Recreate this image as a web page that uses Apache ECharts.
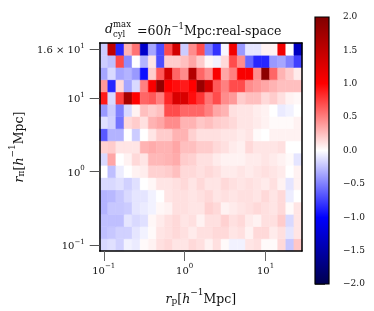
<!DOCTYPE html>
<html><head><meta charset="utf-8">
<script src="https://cdn.jsdelivr.net/npm/echarts@6/dist/echarts.min.js"></script>
<style>html,body{margin:0;padding:0;background:#fff}#c{width:374px;height:311px}</style>
</head><body><div id="c"></div>
<script>
// log10(r_p) bin edges (25 bins)
const rpLogEdges = [-1.05,-0.95,-0.85,-0.75,-0.65,-0.55,-0.45,-0.35,-0.25,-0.15,-0.05,0.05,0.15,0.25,0.35,0.45,0.55,0.65,0.75,0.85,0.95,1.05,1.15,1.25,1.35,1.45];
// log10(r_pi) bin edges (17 bins)
const rpiLogEdges = [-1.0833,-0.9167,-0.75,-0.5833,-0.4167,-0.25,-0.0833,0.0833,0.25,0.4167,0.5833,0.75,0.9167,1.0833,1.25,1.4167,1.5833,1.75];

// values per r_pi row (bottom row = rpiRow00)
const rpiRow16 = [-0.2,1.5,-0.85,0.3,0.55,-1.3,-0.35,-0.7,0.7,1.35,-0.2,0.45,0.7,-0.5,-0.8,-0.03,1.1,-0.4,-0.1,-0.1,0.05,0.05,1.1,0.0,-1.35];
const rpiRow15 = [-0.2,-0.25,0.7,-0.45,0.0,-0.3,0.1,-0.7,0.2,0.2,0.25,0.35,0.2,0.03,-0.05,0.15,0.7,0.45,-0.6,-0.85,-0.85,-0.4,-0.35,-0.5,-0.75];
const rpiRow14 = [-0.35,-0.15,-0.35,-0.3,-0.4,-0.95,0.2,0.65,1.35,0.6,0.45,1.6,0.6,0.45,1.05,0.35,0.5,1.05,1.05,0.45,1.9,0.6,0.3,0.2,0.08];
const rpiRow13 = [0.4,-0.85,0.15,-0.35,-0.15,0.5,1.05,1.85,1.0,0.95,0.9,1.0,1.8,1.35,0.65,0.5,0.7,0.7,0.45,0.4,0.35,0.3,0.25,0.25,0.25];
const rpiRow12 = [0.9,-0.15,0.75,1.7,1.0,0.6,0.65,0.5,0.85,1.3,1.3,0.95,0.8,0.55,0.7,0.45,0.4,0.2,0.25,0.25,0.15,0.2,0.12,0.05,0.03];
const rpiRow11 = [-0.4,-0.2,-0.5,-0.15,0.05,0.25,0.2,0.25,0.7,0.7,0.6,0.6,0.6,0.5,0.35,0.3,0.12,0.1,0.1,0.07,0.05,0.0,-0.08,-0.05,0.0];
const rpiRow10 = [-0.12,-0.18,-0.55,0.15,0.2,0.12,0.3,0.35,0.45,0.45,0.3,0.3,0.22,0.25,0.2,0.18,0.15,0.1,0.1,0.08,0.05,0.02,0.02,0.02,0.05];
const rpiRow09 = [-0.65,-0.3,-0.3,0.0,-0.2,0.0,0.1,0.2,0.2,0.3,0.3,0.18,0.12,0.12,0.12,0.1,0.1,0.08,0.1,0.02,0.0,0.05,0.05,0.05,0.05];
const rpiRow08 = [0.18,0.2,0.1,0.1,0.1,0.3,0.33,0.3,0.3,0.35,0.25,0.25,0.2,0.2,0.15,0.12,0.08,0.06,0.15,0.1,0.1,0.1,0.12,0.0,0.0];
const rpiRow07 = [-0.15,0.35,0.0,0.05,0.15,0.1,0.28,0.28,0.3,0.33,0.2,0.18,0.12,0.12,0.08,0.05,0.05,0.05,0.08,0.08,0.1,0.08,0.05,0.02,-0.1];
const rpiRow06 = [0.0,-0.25,-0.07,0.0,0.05,0.07,0.18,0.18,0.2,0.25,0.15,0.15,0.12,0.15,0.12,0.08,0.08,0.1,0.08,0.1,0.12,0.1,0.08,0.0,0.05];
const rpiRow05 = [-0.15,-0.15,-0.12,-0.18,-0.12,0.0,0.03,0.1,0.1,0.12,0.15,0.1,0.15,0.1,0.1,0.15,0.12,0.1,0.12,0.1,0.08,0.12,0.05,-0.1,0.05];
const rpiRow04 = [-0.3,-0.28,-0.22,-0.15,-0.1,-0.1,-0.05,0.0,0.1,0.12,0.12,0.1,0.12,0.15,0.1,0.12,0.1,0.12,0.12,0.1,0.15,0.1,0.15,-0.07,0.0];
const rpiRow03 = [-0.3,-0.22,-0.22,-0.2,-0.1,-0.08,-0.05,0.03,0.05,0.12,0.12,0.1,0.1,0.18,0.15,0.05,0.08,0.1,0.12,0.15,0.12,0.1,0.15,0.02,0.1];
const rpiRow02 = [-0.25,-0.25,-0.25,-0.1,-0.15,-0.12,0.03,0.08,0.12,0.15,0.1,0.12,0.05,0.12,0.12,0.18,0.12,0.15,0.08,0.05,0.12,0.12,0.2,-0.15,0.1];
const rpiRow01 = [-0.25,-0.22,-0.18,-0.18,-0.1,-0.05,0.02,0.1,0.12,0.15,0.12,0.08,0.12,0.12,0.15,0.15,0.1,0.12,0.05,0.15,0.15,0.08,0.12,-0.1,0.1];
const rpiRow00 = [-0.15,-0.12,-0.18,-0.05,-0.08,0.02,0.05,0.12,0.15,0.1,0.1,0.15,0.12,0.05,0.12,0.02,-0.05,-0.05,0.1,0.12,0.02,0.02,0.15,-0.22,0.22];

const xTickVals = [-1, 0, 1];
const xTickLabels = [['10','−1'],['10','0'],['10','1']];
const yTickVals = [-1, 0, 1, 1.6667];
const yTickLabels = [['10','−1'],['10','0'],['10','1'],['1.6 × 10','1']];
const cbarMin = -2, cbarMax = 2, cbarStep = 0.5;
const cmap = ['#00004d','#0000ff','#ffffff','#ff0000','#800000'];

const rows = [rpiRow00,rpiRow01,rpiRow02,rpiRow03,rpiRow04,rpiRow05,rpiRow06,rpiRow07,rpiRow08,rpiRow09,rpiRow10,rpiRow11,rpiRow12,rpiRow13,rpiRow14,rpiRow15,rpiRow16];
const cells = [];
rows.forEach((row, j) => row.forEach((v, i) => {
  cells.push([rpLogEdges[i], rpLogEdges[i+1], rpiLogEdges[j], rpiLogEdges[j+1], v]);
}));

const FF = 'DejaVu Serif';
const tickRich = {
  b: {fontFamily: FF, fontSize: 10, lineHeight: 13, verticalAlign: 'bottom', color: '#111'},
  s: {fontFamily: FF, fontSize: 7, verticalAlign: 'top', color: '#111'}
};
function nearestLabel(vals, labels, v) {
  let k = 0, d = Infinity;
  vals.forEach((t, i) => { if (Math.abs(t - v) < d) { d = Math.abs(t - v); k = i; } });
  return '{b|' + labels[k][0] + '}{s|' + labels[k][1] + '}';
}
const nameRich = {
  n: {fontFamily: FF, fontSize: 12.5, lineHeight: 18, verticalAlign: 'bottom', color: '#111'},
  i: {fontFamily: FF, fontStyle: 'italic', fontSize: 12.5, lineHeight: 18, verticalAlign: 'bottom', color: '#111'},
  sub: {fontFamily: FF, fontSize: 9, verticalAlign: 'bottom', color: '#111'},
  sup: {fontFamily: FF, fontSize: 9, verticalAlign: 'top', color: '#111'}
};

function renderCell(params, api) {
  const p0 = api.coord([api.value(0), api.value(3)]);
  const p1 = api.coord([api.value(1), api.value(2)]);
  const c = api.visual('color');
  return {type: 'rect', shape: {x: p0[0], y: p0[1], width: p1[0]-p0[0], height: p1[1]-p0[1]},
    style: {fill: c, stroke: c, lineWidth: 0.5}};
}
function renderBar(params, api) {
  const p0 = api.coord([api.value(0), api.value(3)]);
  const p1 = api.coord([api.value(1), api.value(2)]);
  const stops = cmap.slice().reverse().map((c, k) => ({offset: k/(cmap.length-1), color: c}));
  return {type: 'rect', shape: {x: p0[0], y: p0[1], width: p1[0]-p0[0], height: p1[1]-p0[1]},
    style: {fill: new echarts.graphic.LinearGradient(0,0,0,1,stops), stroke: '#000', lineWidth: 1.2}};
}

const chart = echarts.init(document.getElementById('c'), null, {renderer: 'canvas'});
const frameLine = {show: true, onZero: false, lineStyle: {color: '#000', width: 1.5}};
chart.setOption({
  animation: false,
  backgroundColor: '#fff',
  grid: [
    {left: 87, top: 43, width: 215, height: 215},
    {left: 315, top: 17, width: 14, height: 267}
  ],
  visualMap: {type: 'continuous', show: false, min: cbarMin, max: cbarMax, dimension: 4, seriesIndex: 0, inRange: {color: cmap}},
  xAxis: [
    {gridIndex: 0, type: 'value', min: rpLogEdges[0], max: rpLogEdges[rpLogEdges.length-1], position: 'bottom', z: 10,
     axisLine: frameLine,
     axisTick: {show: true, length: 10, customValues: xTickVals, lineStyle: {color: '#666', width: 1}},
     axisLabel: {customValues: xTickVals, margin: 12, formatter: v => nearestLabel(xTickVals, xTickLabels, v), rich: tickRich},
     splitLine: {show: false},
     name: '{i|r}{sub|p}{n|[}{i|h}{sup|−1}{n|Mpc]}', nameLocation: 'middle', nameGap: 37, nameTextStyle: {rich: nameRich}},
    {gridIndex: 0, type: 'value', min: rpLogEdges[0], max: rpLogEdges[rpLogEdges.length-1], position: 'top', z: 10,
     axisLine: frameLine, axisTick: {show: false}, axisLabel: {show: false}, splitLine: {show: false}},
    {gridIndex: 1, type: 'value', min: 0, max: 1, show: false}
  ],
  yAxis: [
    {gridIndex: 0, type: 'value', min: rpiLogEdges[0], max: rpiLogEdges[rpiLogEdges.length-1], position: 'left', z: 10,
     axisLine: frameLine,
     axisTick: {show: true, length: 10, customValues: yTickVals, lineStyle: {color: '#555', width: 1}},
     axisLabel: {customValues: yTickVals, margin: 15, formatter: v => nearestLabel(yTickVals, yTickLabels, v), rich: tickRich},
     splitLine: {show: false},
     name: '{i|r}{sub|π}{n|[}{i|h}{sup|−1}{n|Mpc]}', nameLocation: 'middle', nameGap: 70, nameRotate: 90, nameTextStyle: {rich: nameRich}},
    {gridIndex: 0, type: 'value', min: rpiLogEdges[0], max: rpiLogEdges[rpiLogEdges.length-1], position: 'right', z: 10,
     axisLine: frameLine, axisTick: {show: false}, axisLabel: {show: false}, splitLine: {show: false}},
    {gridIndex: 1, type: 'value', min: cbarMin, max: cbarMax, interval: cbarStep, position: 'right',
     axisLine: {show: false},
     axisTick: {show: true, length: 10, lineStyle: {color: '#555', width: 1}},
     axisLabel: {margin: 14, showMinLabel: true, showMaxLabel: true, fontFamily: FF, fontSize: 9, color: '#111',
       formatter: v => (v < 0 ? '−' : '') + Math.abs(v).toFixed(1)},
     splitLine: {show: false}}
  ],
  graphic: [
    {type: 'text', x: 105, y: 30, style: {text: 'd', font: 'italic 12.5px "DejaVu Serif"', fill: '#111', verticalAlign: 'middle'}},
    {type: 'text', x: 113, y: 24.5, style: {text: 'max', font: '8.5px "DejaVu Serif"', fill: '#111', verticalAlign: 'middle'}},
    {type: 'text', x: 113, y: 34.5, style: {text: 'cyl', font: '8.5px "DejaVu Serif"', fill: '#111', verticalAlign: 'middle'}},
    {type: 'text', x: 137, y: 30, style: {text: '{n|=60}{i|h}{sup|−1}{n|Mpc:real-space}', verticalAlign: 'middle',
      rich: {
        n: {fontFamily: FF, fontSize: 12.5, lineHeight: 16, verticalAlign: 'bottom', fill: '#111'},
        i: {fontFamily: FF, fontStyle: 'italic', fontSize: 12.5, lineHeight: 16, verticalAlign: 'bottom', fill: '#111'},
        sup: {fontFamily: FF, fontSize: 8.5, verticalAlign: 'top', fill: '#111'}
      }}}
  ],
  series: [
    {type: 'custom', xAxisIndex: 0, yAxisIndex: 0, renderItem: renderCell, data: cells, encode: {x: [0,1], y: [2,3]}, z: 2},
    {type: 'custom', xAxisIndex: 2, yAxisIndex: 2, renderItem: renderBar, data: [[0, 1, cbarMin, cbarMax]], encode: {x: [0,1], y: [2,3]}, z: 2}
  ]
});
</script></body></html>
